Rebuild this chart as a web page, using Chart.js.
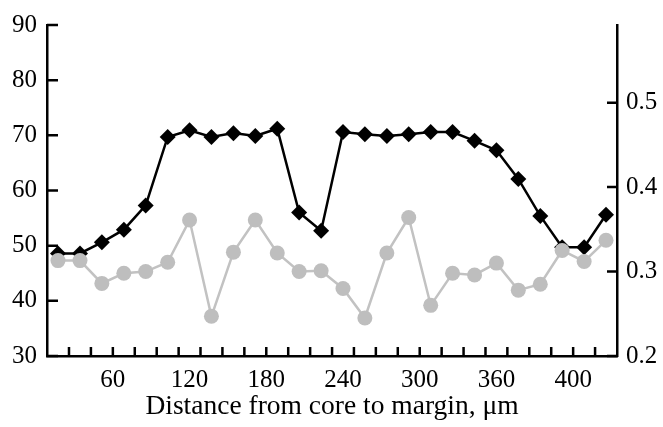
<!DOCTYPE html>
<html>
<head>
<meta charset="utf-8">
<script src="https://cdn.jsdelivr.net/npm/chart.js@4.4.1/dist/chart.umd.min.js"></script>
<style>
  html, body { margin: 0; padding: 0; background: #fff; }
  #wrap { width: 663px; height: 427px; position: relative; }
</style>
</head>
<body>
<div id="wrap"><canvas id="profile"></canvas></div>
<script>
// distance of each measuring point, um
var distances = [17.1, 34.3, 51.4, 68.6, 85.7, 102.9, 120, 137.1, 154.3, 171.4, 188.6, 205.7, 222.9,
                 240, 257.1, 274.3, 291.4, 308.6, 325.7, 342.9, 360, 377.1, 394.3, 411.4, 428.6, 445.7];

// black diamonds, left axis
var leftSeries = [48.6, 48.6, 50.6, 52.9, 57.3, 69.7, 70.9, 69.7, 70.4, 69.9, 71.2, 56.0, 52.7,
                  70.6, 70.2, 69.9, 70.2, 70.6, 70.6, 69.0, 67.3, 62.1, 55.4, 49.7, 49.7, 55.6];

// grey circles, right axis
var rightSeries = [0.313, 0.313, 0.286, 0.298, 0.300, 0.311, 0.361, 0.247, 0.323, 0.361, 0.322, 0.300, 0.301,
                   0.280, 0.245, 0.322, 0.364, 0.260, 0.298, 0.296, 0.310, 0.278, 0.285, 0.325, 0.312, 0.337];

var xTickValues = [60, 120, 180, 240, 300, 360, 420];
var xTickLabels = ['60', '120', '180', '240', '300', '360', '400'];
var leftTicks = [30, 40, 50, 60, 70, 80, 90];
var rightTicks = [0.2, 0.3, 0.4, 0.5];

var fontFamily = "'Liberation Serif', 'Times New Roman', serif";

function toPoints(ys) {
    return ys.map(function(y, i) { return { x: distances[i], y: y }; });
}

// half a step before the first point and after the last one
var halfStep = (distances[1] - distances[0]) / 2;
var xMin = distances[0] - halfStep;
var xMax = distances[distances.length - 1] + halfStep;

// tick marks point into the plot, drawn by hand
var innerTicks = {
    id: 'innerTicks',
    beforeDatasetsDraw: function(chart) {
        var ctx = chart.ctx;
        var area = chart.chartArea;
        var sx = chart.scales.x, sl = chart.scales.yLeft, sr = chart.scales.yRight;
        ctx.save();
        ctx.strokeStyle = '#000';
        ctx.lineWidth = 2.5;
        ctx.beginPath();
        for (var i = 1; i < distances.length; i++) {
            var px = sx.getPixelForValue((distances[i - 1] + distances[i]) / 2);
            ctx.moveTo(px, area.bottom);
            ctx.lineTo(px, area.bottom - 9);
        }
        leftTicks.forEach(function(v) {
            var py = sl.getPixelForValue(v);
            ctx.moveTo(area.left, py);
            ctx.lineTo(area.left + 11, py);
        });
        rightTicks.forEach(function(v) {
            var py = sr.getPixelForValue(v);
            ctx.moveTo(area.right, py);
            ctx.lineTo(area.right - 10, py);
        });
        ctx.stroke();
        ctx.restore();
    }
};

Chart.defaults.font.family = fontFamily;
Chart.defaults.font.size = 25;
Chart.defaults.color = '#000';

var chart = new Chart(document.getElementById('profile').getContext('2d'), {
    type: 'line',
    data: {
        datasets: [{
            label: 'grey',
            data: toPoints(rightSeries),
            yAxisID: 'yRight',
            borderColor: '#c2c2c2',
            backgroundColor: '#bebebe',
            borderWidth: 2.5,
            pointStyle: 'circle',
            pointRadius: 7.5,
            pointBorderWidth: 0,
            tension: 0,
            order: 0
        }, {
            label: 'black',
            data: toPoints(leftSeries),
            yAxisID: 'yLeft',
            borderColor: '#000',
            backgroundColor: '#000',
            borderWidth: 2.5,
            pointStyle: 'rectRot',
            pointRadius: 8,
            pointBorderWidth: 0,
            tension: 0,
            order: 1
        }]
    },
    options: {
        responsive: true,
        maintainAspectRatio: false,
        animation: false,
        layout: { padding: { top: 14, left: 0, right: 0, bottom: 0 } },
        plugins: {
            legend: { display: false },
            tooltip: { enabled: false }
        },
        scales: {
            x: {
                type: 'linear',
                min: xMin,
                max: xMax,
                grid: { display: false, drawTicks: false },
                border: { display: true, color: '#000', width: 2.5 },
                afterBuildTicks: function(scale) {
                    scale.ticks = xTickValues.map(function(v) { return { value: v }; });
                },
                ticks: {
                    padding: 9,
                    maxRotation: 0,
                    autoSkip: false,
                    callback: function(value, index) { return xTickLabels[index]; }
                },
                title: {
                    display: true,
                    text: 'Distance from core to margin, μm',
                    font: { size: 27.5 },
                    padding: { top: 0, bottom: 4 }
                },
                afterFit: function(scale) { scale.height = 71; }
            },
            yLeft: {
                type: 'linear',
                position: 'left',
                min: 30,
                max: 90,
                grid: { display: false, drawTicks: false },
                border: { display: true, color: '#000', width: 2.5 },
                afterBuildTicks: function(scale) {
                    scale.ticks = leftTicks.map(function(v) { return { value: v }; });
                },
                ticks: { padding: 10 },
                afterFit: function(scale) { scale.width = 47; }
            },
            yRight: {
                type: 'linear',
                position: 'right',
                min: 0.2,
                max: 0.592,
                grid: { display: false, drawTicks: false },
                border: { display: true, color: '#000', width: 2.5 },
                afterBuildTicks: function(scale) {
                    scale.ticks = rightTicks.map(function(v) { return { value: v }; });
                },
                ticks: {
                    padding: 9,
                    callback: function(value) { return value.toFixed(1); }
                },
                afterFit: function(scale) { scale.width = 46; }
            }
        }
    },
    plugins: [innerTicks]
});
</script>
</body>
</html>
